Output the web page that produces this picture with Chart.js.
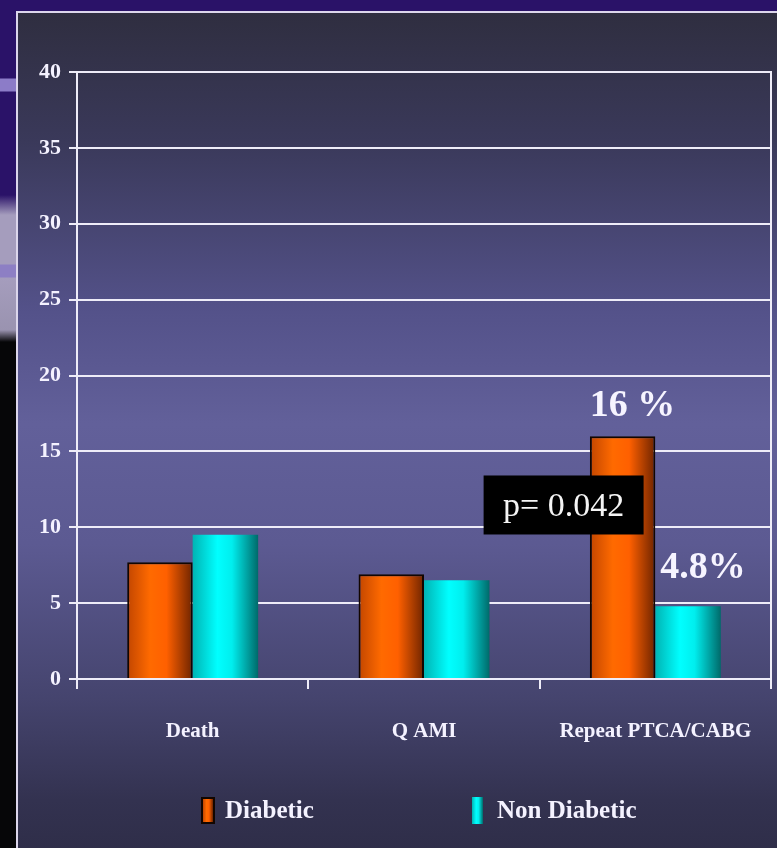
<!DOCTYPE html>
<html>
<head>
<meta charset="utf-8">
<script src="https://cdn.jsdelivr.net/npm/chart.js@4/dist/chart.umd.min.js"></script>
<style>
  html, body { margin: 0; padding: 0; }
  body {
    width: 777px; height: 848px; overflow: hidden; position: relative;
    background: #2a1268;
    font-family: "Liberation Serif", "Times New Roman", serif;
  }
  /* slide decoration down the left edge */
  #strip {
    position: absolute; left: 0; top: 0; width: 16px; height: 848px;
    background: linear-gradient(to bottom,
      #2a1268 0px, #2a1268 78px, #8c7cc8 79px, #8c7cc8 91px, #2a1268 92px,
      #2a1268 195px, #a59dbd 215px, #a59dbd 264px, #8d7fc4 265px, #8d7fc4 277px,
      #a59dbd 278px, #9a93b0 330px, #060608 342px, #060608 848px);
  }
  #frame {
    position: absolute; left: 16px; top: 11px; width: 780px; height: 860px;
    border: 2px solid #dcd6ec; box-sizing: border-box;
    background: linear-gradient(to bottom,
      #2f2e40 0%, #3a395a 15%, #54528a 35%, #62609a 48%, #5c5a92 62%,
      #45446e 80%, #333250 92%, #2d2c46 100%);
  }
  #wrap { position: absolute; left: 0; top: 0; width: 777px; height: 848px; }
  #legend { position: absolute; left: 0; top: 0; }
  .lg-box { position: absolute; top: 797px; height: 27px; box-sizing: border-box; }
  .lg-text {
    position: absolute; top: 795px; line-height: 30px; font-size: 25px;
    font-weight: bold; color: #f4f2ff; white-space: nowrap;
  }
</style>
</head>
<body>
<div id="strip"></div>
<div id="frame"></div>
<div id="wrap"><canvas id="chart"></canvas></div>
<div id="legend"></div>
<script>
const categories = ['Death', 'Q AMI', 'Repeat PTCA/CABG'];
const diabetic = [7.7, 6.9, 16];
const nonDiabetic = [9.5, 6.5, 4.8];
const seriesNames = ['Diabetic', 'Non Diabetic'];
const yTicks = [0, 5, 10, 15, 20, 25, 30, 35, 40];
const repeatLabels = ['16 %', '4.8%'];
const pValueText = 'p= 0.042';

const WHITE = '#eeecf8';
const FONT = '"Liberation Serif", "Times New Roman", serif';

// horizontal shading for the cylinder-like bars
const shades = [
  [[0, '#c24600'], [0.35, '#ff6a00'], [0.6, '#ff6000'], [1, '#6e2400']],
  [[0, '#00b4b4'], [0.38, '#00ffff'], [0.6, '#00eeee'], [1, '#006a6a']]
];

function shade(ctx, x0, x1, stops) {
  const g = ctx.createLinearGradient(x0, 0, x1, 0);
  stops.forEach(s => g.addColorStop(s[0], s[1]));
  return g;
}

const barShading = {
  id: 'barShading',
  beforeDatasetsDraw(chart) {
    const ctx = chart.ctx;
    chart.data.datasets.forEach((ds, i) => {
      chart.getDatasetMeta(i).data.forEach(bar => {
        const { x, width } = bar.getProps(['x', 'width'], true);
        // bars share one options object, so give each its own copy
        bar.options = Object.assign({}, bar.options, {
          backgroundColor: shade(ctx, x - width / 2, x + width / 2, shades[i])
        });
      });
    });
  }
};

const notes = {
  id: 'notes',
  afterDatasetsDraw(chart) {
    const ctx = chart.ctx;
    const y = chart.scales.y;
    const d = chart.getDatasetMeta(0).data[2];
    const n = chart.getDatasetMeta(1).data[2];
    ctx.save();
    ctx.textAlign = 'center';
    ctx.textBaseline = 'middle';
    ctx.fillStyle = '#f6f4ff';
    ctx.font = 'bold 38px ' + FONT;
    ctx.fillText(repeatLabels[0], d.x + 10, d.y - 30);
    ctx.fillText(repeatLabels[1], n.x + 15, n.y - 38);

    // p-value box over the diabetic bar
    const cy = y.getPixelForValue(11.5);
    const left = d.x - 139, right = d.x + 21;
    ctx.fillStyle = '#000000';
    ctx.fillRect(left, cy - 29, right - left, 59);
    ctx.fillStyle = '#f4f4f4';
    ctx.font = '34px ' + FONT;
    ctx.fillText(pValueText, (left + right) / 2, cy + 3);
    ctx.restore();
  }
};

const chart = new Chart(document.getElementById('chart'), {
  type: 'bar',
  data: {
    labels: categories,
    datasets: [
      {
        label: seriesNames[0],
        data: diabetic,
        backgroundColor: '#ff6600',
        borderColor: '#120600',
        borderWidth: 2
      },
      {
        label: seriesNames[1],
        data: nonDiabetic,
        backgroundColor: '#00ffff',
        borderWidth: 0
      }
    ]
  },
  options: {
    responsive: true,
    maintainAspectRatio: false,
    animation: false,
    categoryPercentage: 0.566,
    barPercentage: 1,
    layout: { padding: { left: 0, top: 72, right: 6, bottom: 89 } },
    plugins: {
      legend: { display: false },
      tooltip: { enabled: false }
    },
    scales: {
      x: {
        grid: {
          drawOnChartArea: false,
          color: WHITE,
          lineWidth: 2,
          tickLength: 10
        },
        border: { color: WHITE, width: 2 },
        ticks: {
          color: '#f4f2ff',
          padding: 30,
          font: { family: FONT, size: 21, weight: 'bold' }
        },
        afterFit(scale) {
          scale.height = 80;
          // labels fit inside their categories, no extra side room needed
          scale.paddingLeft = 0;
          scale.paddingRight = 0;
        }
      },
      y: {
        min: 0,
        max: 40,
        afterBuildTicks(scale) { scale.ticks = yTicks.map(v => ({ value: v })); },
        grid: { color: WHITE, lineWidth: 2, tickLength: 8 },
        border: { color: WHITE, width: 2 },
        ticks: {
          color: '#f4f2ff',
          padding: 8,
          font: { family: FONT, size: 22, weight: 'bold' }
        },
        afterFit(scale) { scale.width = 77; }
      },
      frameRight: {
        type: 'linear',
        position: 'right',
        grid: { drawOnChartArea: false, drawTicks: false },
        border: { color: WHITE, width: 2 },
        ticks: { display: false },
        afterFit(scale) { scale.width = 0; }
      }
    }
  },
  plugins: [barShading, notes]
});

// legend below the chart, built from the datasets
const legend = document.getElementById('legend');
const legendPos = [
  { box: 201, w: 14, text: 225, border: '2px solid #120600' },
  { box: 472, w: 11, text: 497, border: 'none' }
];
chart.data.datasets.forEach((ds, i) => {
  const p = legendPos[i];
  const box = document.createElement('div');
  box.className = 'lg-box';
  box.style.left = p.box + 'px';
  box.style.width = p.w + 'px';
  box.style.border = p.border;
  box.style.background = 'linear-gradient(to right,' +
    shades[i].map(s => s[1] + ' ' + (s[0] * 100) + '%').join(',') + ')';
  legend.appendChild(box);
  const t = document.createElement('div');
  t.className = 'lg-text';
  t.style.left = p.text + 'px';
  t.textContent = ds.label;
  legend.appendChild(t);
});
</script>
</body>
</html>
